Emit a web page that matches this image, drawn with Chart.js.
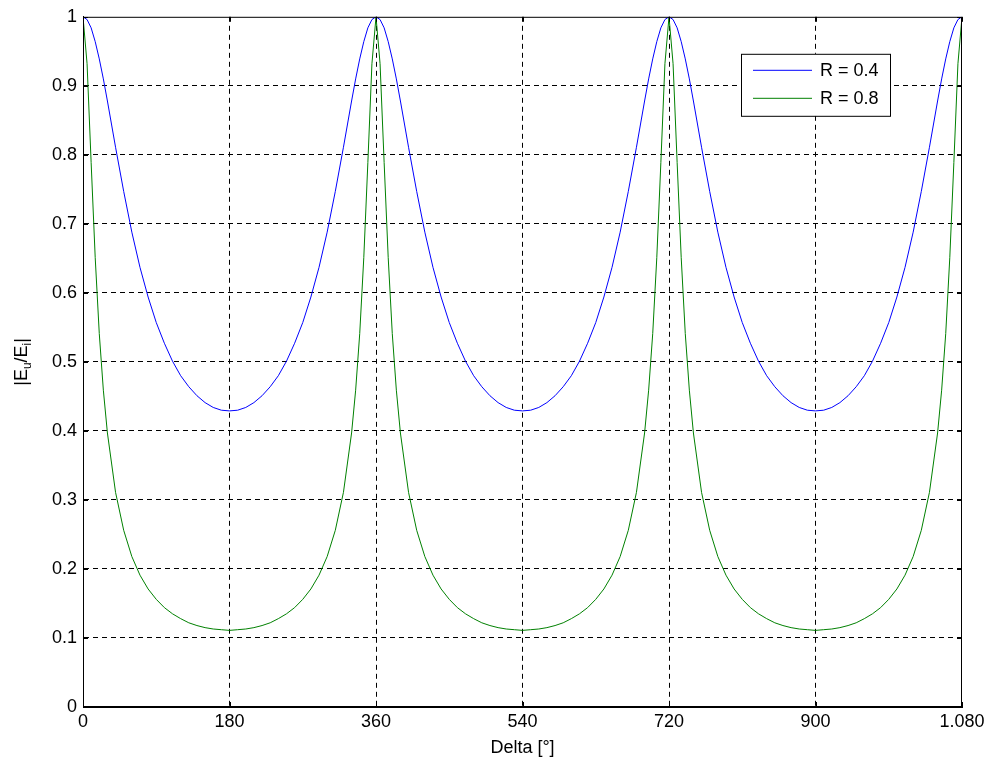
<!DOCTYPE html>
<html>
<head>
<meta charset="utf-8">
<script src="https://cdn.jsdelivr.net/npm/chart.js@4.4.0/dist/chart.umd.min.js"></script>
<style>
  html, body { margin: 0; padding: 0; background: #fff; }
  #wrap { width: 989px; height: 763px; position: relative; }
</style>
</head>
<body>
<div id="wrap"><canvas id="plot"></canvas></div>
<script>
// phase difference in degrees (denser sampling near the peaks)
const DELTA = [
  0, 5, 10, 15, 20, 25, 30, 40, 50, 60, 70, 80, 90, 100, 110, 120, 130, 140, 150, 160, 170, 180,
  190, 200, 210, 220, 230, 240, 250, 260, 270, 280, 290, 300, 310, 320, 330, 335, 340, 345, 350, 355,
  360, 365, 370, 375, 380, 385, 390, 400, 410, 420, 430, 440, 450, 460, 470, 480, 490, 500, 510, 520, 530, 540,
  550, 560, 570, 580, 590, 600, 610, 620, 630, 640, 650, 660, 670, 680, 690, 695, 700, 705, 710, 715,
  720, 725, 730, 735, 740, 745, 750, 760, 770, 780, 790, 800, 810, 820, 830, 840, 850, 860, 870, 880, 890, 900,
  910, 920, 930, 940, 950, 960, 970, 980, 990, 1000, 1010, 1020, 1030, 1040, 1050, 1055, 1060, 1065, 1070, 1075,
  1080
];

const R04 = [
  1.000, 0.996, 0.984, 0.964, 0.939, 0.910, 0.878, 0.811, 0.747, 0.688, 0.637, 0.594, 0.557, 0.527, 0.501, 0.480, 0.464, 0.451, 0.441, 0.434, 0.430, 0.429,
  0.430, 0.434, 0.441, 0.451, 0.464, 0.480, 0.501, 0.527, 0.557, 0.594, 0.637, 0.688, 0.747, 0.811, 0.878, 0.910, 0.939, 0.964, 0.984, 0.996,
  1.000, 0.996, 0.984, 0.964, 0.939, 0.910, 0.878, 0.811, 0.747, 0.688, 0.637, 0.594, 0.557, 0.527, 0.501, 0.480, 0.464, 0.451, 0.441, 0.434, 0.430, 0.429,
  0.430, 0.434, 0.441, 0.451, 0.464, 0.480, 0.501, 0.527, 0.557, 0.594, 0.637, 0.688, 0.747, 0.811, 0.878, 0.910, 0.939, 0.964, 0.984, 0.996,
  1.000, 0.996, 0.984, 0.964, 0.939, 0.910, 0.878, 0.811, 0.747, 0.688, 0.637, 0.594, 0.557, 0.527, 0.501, 0.480, 0.464, 0.451, 0.441, 0.434, 0.430, 0.429,
  0.430, 0.434, 0.441, 0.451, 0.464, 0.480, 0.501, 0.527, 0.557, 0.594, 0.637, 0.688, 0.747, 0.811, 0.878, 0.910, 0.939, 0.964, 0.984, 0.996,
  1.000
];

const R08 = [
  1.000, 0.932, 0.789, 0.651, 0.541, 0.459, 0.397, 0.311, 0.256, 0.218, 0.191, 0.171, 0.156, 0.144, 0.135, 0.128, 0.122, 0.118, 0.115, 0.113, 0.112, 0.111,
  0.112, 0.113, 0.115, 0.118, 0.122, 0.128, 0.135, 0.144, 0.156, 0.171, 0.191, 0.218, 0.256, 0.311, 0.397, 0.459, 0.541, 0.651, 0.789, 0.932,
  1.000, 0.932, 0.789, 0.651, 0.541, 0.459, 0.397, 0.311, 0.256, 0.218, 0.191, 0.171, 0.156, 0.144, 0.135, 0.128, 0.122, 0.118, 0.115, 0.113, 0.112, 0.111,
  0.112, 0.113, 0.115, 0.118, 0.122, 0.128, 0.135, 0.144, 0.156, 0.171, 0.191, 0.218, 0.256, 0.311, 0.397, 0.459, 0.541, 0.651, 0.789, 0.932,
  1.000, 0.932, 0.789, 0.651, 0.541, 0.459, 0.397, 0.311, 0.256, 0.218, 0.191, 0.171, 0.156, 0.144, 0.135, 0.128, 0.122, 0.118, 0.115, 0.113, 0.112, 0.111,
  0.112, 0.113, 0.115, 0.118, 0.122, 0.128, 0.135, 0.144, 0.156, 0.171, 0.191, 0.218, 0.256, 0.311, 0.397, 0.459, 0.541, 0.651, 0.789, 0.932,
  1.000
];

const X_TICKS = [0, 180, 360, 540, 720, 900, 1080];
const X_TICK_LABELS = ["0", "180", "360", "540", "720", "900", "1.080"];
const Y_TICK_LABELS = ["0", "0.1", "0.2", "0.3", "0.4", "0.5", "0.6", "0.7", "0.8", "0.9", "1"];
const SERIES_LABELS = ["R = 0.4", "R = 0.8"];

const FONT = "'Liberation Sans', Arial, sans-serif";
const FS = 18;

function toPoints(ys) {
  return DELTA.map(function (d, i) { return { x: d, y: ys[i] }; });
}

// no dashed grid line on top of the solid box
function innerGrid(ctx) {
  const n = ctx.scale.ticks.length;
  return (ctx.index === 0 || ctx.index === n - 1) ? "rgba(0,0,0,0)" : "#000";
}

// box, inward tick marks, axis titles and the legend, drawn like a matlab figure
const matlabFrame = {
  id: "matlabFrame",
  afterDraw: function (chart) {
    const ctx = chart.ctx;
    const a = chart.chartArea;
    const xs = chart.scales.x;
    const ys = chart.scales.y;
    ctx.save();
    ctx.strokeStyle = "#000";
    ctx.lineWidth = 1;
    ctx.setLineDash([]);
    ctx.strokeRect(a.left + 0.5, a.top + 0.5, a.right - a.left - 1, a.bottom - a.top - 1);

    ctx.beginPath();
    X_TICKS.forEach(function (v) {
      const px = Math.round(xs.getPixelForValue(v)) + 0.5;
      ctx.moveTo(px, a.bottom); ctx.lineTo(px, a.bottom - 5);
      ctx.moveTo(px, a.top); ctx.lineTo(px, a.top + 5);
    });
    Y_TICK_LABELS.forEach(function (l, i) {
      const py = Math.round(ys.getPixelForValue(i / 10)) + 0.5;
      ctx.moveTo(a.left, py); ctx.lineTo(a.left + 5, py);
      ctx.moveTo(a.right, py); ctx.lineTo(a.right - 5, py);
    });
    ctx.stroke();

    // x title
    ctx.fillStyle = "#000";
    ctx.font = FS + "px " + FONT;
    ctx.textAlign = "center";
    ctx.textBaseline = "alphabetic";
    ctx.fillText("Delta [°]", (a.left + a.right) / 2, 753);

    // y title |E_u/E_i|
    const parts = [["|E", 0], ["u", 1], ["/E", 0], ["i", 1], ["|", 0]];
    ctx.save();
    ctx.translate(27, (a.top + a.bottom) / 2);
    ctx.rotate(-Math.PI / 2);
    ctx.textAlign = "left";
    let w = 0;
    parts.forEach(function (p) {
      ctx.font = (p[1] ? "12px " : FS + "px ") + FONT;
      w += ctx.measureText(p[0]).width;
    });
    let x = -w / 2;
    parts.forEach(function (p) {
      ctx.font = (p[1] ? "12px " : FS + "px ") + FONT;
      ctx.fillText(p[0], x, p[1] ? 4 : 0);
      x += ctx.measureText(p[0]).width;
    });
    ctx.restore();

    // legend
    const lx = a.right - 221, ly = a.top + 37, lw = 149, lh = 62;
    ctx.fillStyle = "#fff";
    ctx.fillRect(lx, ly, lw, lh);
    ctx.strokeStyle = "#000";
    ctx.strokeRect(lx + 0.5, ly + 0.5, lw, lh);
    chart.data.datasets.forEach(function (ds, i) {
      const yy = ly + 16.5 + i * 28;
      ctx.strokeStyle = ds.borderColor;
      ctx.beginPath();
      ctx.moveTo(lx + 12, yy); ctx.lineTo(lx + 71, yy);
      ctx.stroke();
      ctx.fillStyle = "#000";
      ctx.font = FS + "px " + FONT;
      ctx.textAlign = "left";
      ctx.textBaseline = "middle";
      ctx.fillText(ds.label, lx + 79, yy + 1);
    });
    ctx.restore();
  }
};

new Chart(document.getElementById("plot").getContext("2d"), {
  type: "line",
  data: {
    datasets: [{
      label: SERIES_LABELS[0],
      data: toPoints(R04),
      borderColor: "#0000ff",
      borderWidth: 1,
      pointRadius: 0,
      tension: 0,
      fill: false
    },
    {
      label: SERIES_LABELS[1],
      data: toPoints(R08),
      borderColor: "#008000",
      borderWidth: 1,
      pointRadius: 0,
      tension: 0,
      fill: false
    }]
  },
  options: {
    responsive: true,
    maintainAspectRatio: false,
    animation: false,
    layout: { padding: { left: 0, right: 27, top: 13, bottom: 0 } },
    plugins: {
      legend: { display: false },
      tooltip: { enabled: false }
    },
    scales: {
      x: {
        type: "linear",
        min: 0,
        max: 1080,
        afterBuildTicks: function (scale) {
          scale.ticks = X_TICKS.map(function (v) { return { value: v }; });
        },
        afterFit: function (scale) { scale.height = 56; },
        ticks: {
          padding: 4,
          color: "#000",
          font: { family: FONT, size: FS },
          maxRotation: 0,
          autoSkip: false,
          callback: function (v) {
            const i = X_TICKS.indexOf(v);
            return i >= 0 ? X_TICK_LABELS[i] : "";
          }
        },
        grid: {
          color: innerGrid,
          lineWidth: 1,
          drawTicks: false
        },
        border: { display: true, color: "#000", dash: [5, 4] }
      },
      y: {
        type: "linear",
        min: 0,
        max: 1,
        afterFit: function (scale) { scale.width = 83; },
        ticks: {
          stepSize: 0.1,
          padding: 6,
          color: "#000",
          font: { family: FONT, size: FS },
          callback: function (v) { return Y_TICK_LABELS[Math.round(v * 10)]; }
        },
        grid: {
          color: innerGrid,
          lineWidth: 1,
          drawTicks: false
        },
        border: { display: true, color: "#000", dash: [5, 4] }
      }
    }
  },
  plugins: [matlabFrame]
});
</script>
</body>
</html>
